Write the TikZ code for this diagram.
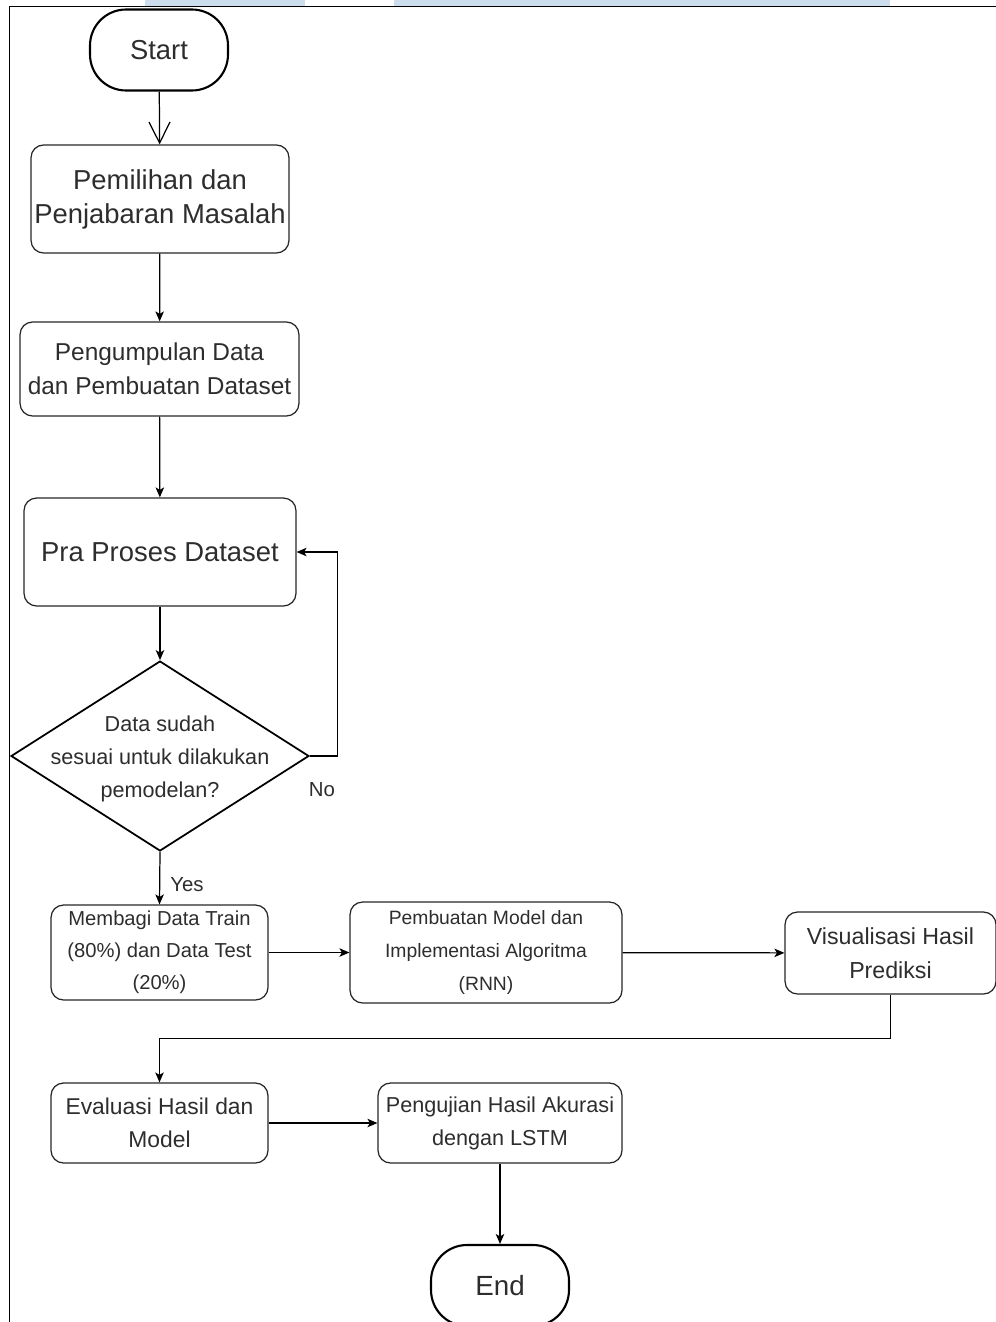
\documentclass[tikz,border=0pt]{standalone}
\usepackage{fontspec}
\setmainfont{Liberation Sans}
\usetikzlibrary{arrows.meta,shapes.geometric}
\definecolor{txtgray}{RGB}{45,45,45}
\definecolor{bandblue}{RGB}{204,222,237}
\newcommand{\fs}[2]{\fontsize{#1}{#2}\selectfont}

\begin{document}
\begin{tikzpicture}[
    x=0.02cm, y=-0.02cm,
    every node/.style={text=txtgray, align=center},
    term/.style={draw=black, line width=1.2pt, rounded corners=0.72cm,
      minimum width=2.76cm, minimum height=1.62cm, inner sep=0pt},
    proc/.style={draw=black!85, line width=0.7pt, rounded corners=0.25cm, inner sep=1pt},
    decision/.style={draw=black, line width=1pt, diamond, aspect=1.57,
      minimum width=5.96cm, minimum height=3.8cm, inner sep=0pt},
    arr/.style={line width=0.7pt, -{Stealth[length=0.2cm, width=0.17cm, inset=0.05cm]}},
    open/.style={line width=0.7pt, -{Straight Barb[length=0.42cm, width=0.42cm]}},
    ]
    \useasboundingbox (0,0) rectangle (996,1322);
    \fill[bandblue] (145,0) rectangle (305,6);
    \fill[bandblue] (394,0) rectangle (890,6);
    \draw[line width=1.1pt] (9.5,1322) -- (9.5,6.5) -- (996,6.5);

    \node[term, font=\fs{15.6}{18}] (start) at (159,50) {Start};
    \node[proc, minimum width=5.16cm, minimum height=2.16cm, font=\fs{15.6}{19.3}]
      (masalah) at (160,199) {Pemilihan dan\\Penjabaran Masalah};
    \node[proc, minimum width=5.58cm, minimum height=1.88cm, font=\fs{13.9}{19.3}]
      (dataset) at (159.5,369) {Pengumpulan Data\\dan Pembuatan Dataset};
    \node[proc, minimum width=5.44cm, minimum height=2.16cm, font=\fs{15.6}{19}]
      (praproses) at (160,552) {Pra Proses Dataset};
    \node[decision] (cek) at (160,756) {};
    \node[font=\fs{12.3}{18.6}] (cektext) at ([yshift=-0.06cm]cek.center)
      {Data sudah\\sesuai untuk dilakukan\\pemodelan?};
    \node[proc, minimum width=4.34cm, minimum height=1.9cm, font=\fs{11.5}{18.2}]
      (bagi) at (159.5,952.5) {Membagi Data Train\\(80\%) dan Data Test\\(20\%)};
    \node[proc, minimum width=5.44cm, minimum height=2.02cm, font=\fs{11}{18.8}]
      (model) at (486,952.5) {Pembuatan Model dan\\Implementasi Algoritma\\(RNN)};
    \node[proc, minimum width=4.22cm, minimum height=1.64cm, font=\fs{13.2}{19.3}]
      (visual) at (890.5,953) {Visualisasi Hasil\\Prediksi};
    \node[proc, minimum width=4.34cm, minimum height=1.6cm, font=\fs{13}{18.8}]
      (evaluasi) at (159.5,1123) {Evaluasi Hasil dan\\Model};
    \node[proc, minimum width=4.88cm, minimum height=1.6cm, font=\fs{12.3}{18.8}]
      (uji) at (500,1123) {Pengujian Hasil Akurasi\\dengan LSTM};
    \node[term, font=\fs{15.8}{18}] (end) at (500,1285.5) {End};

    \node[font=\fs{11.6}{14}] (no) at (322,790) {No};
    \node[font=\fs{11.6}{14}] (yes) at (187,885) {Yes};

    \draw[open] (start) -- (masalah);
    \draw[arr] (masalah) -- (dataset);
    \draw[arr] (dataset) -- (praproses);
    \draw[arr] (praproses) -- (cek);
    \draw[arr] (cek.east) -- ++(28,0) |- (praproses.east);
    \draw[arr] (cek.south) -- (bagi.north);
    \draw[arr] (bagi) -- (model);
    \draw[arr] (model) -- (visual);
    \draw[arr] (visual.south) -- ++(0,44) -| (evaluasi.north);
    \draw[arr] (evaluasi) -- (uji);
    \draw[arr] (uji) -- (end);
  \end{tikzpicture}
\end{document}
